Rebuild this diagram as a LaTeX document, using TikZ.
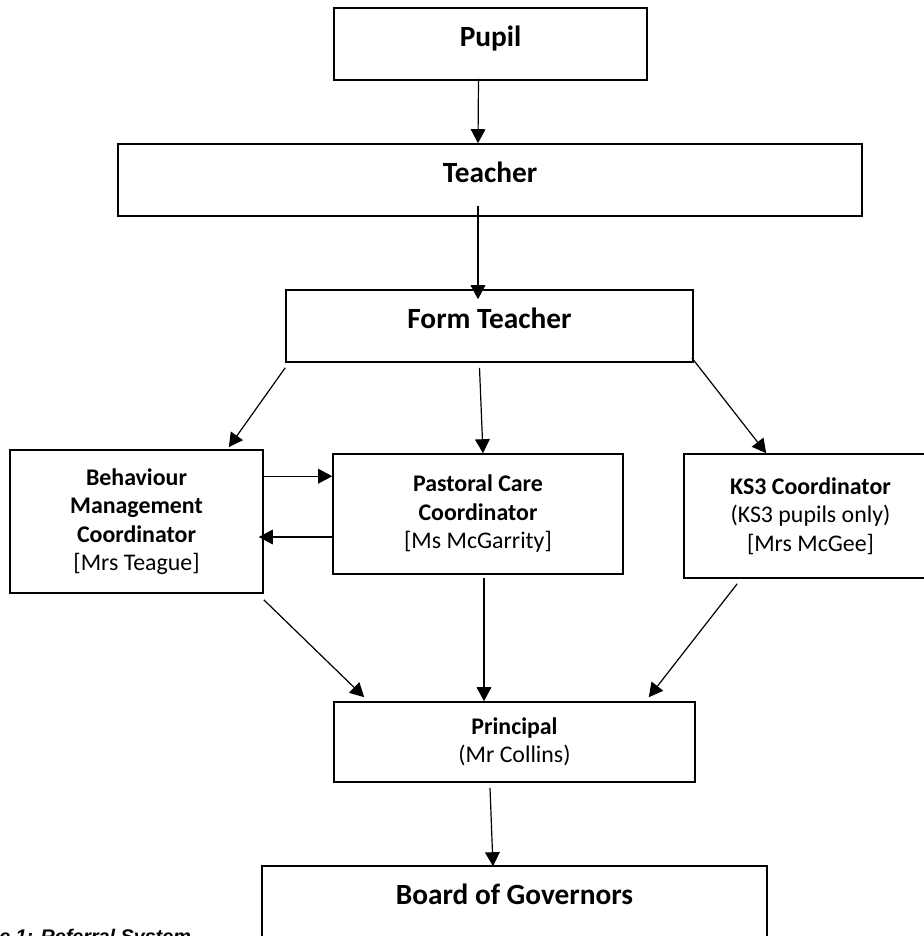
\documentclass[tikz,border=0pt]{standalone}
\usepackage{fontspec}
\setmainfont{Carlito}
\newfontfamily\captionfont{Liberation Sans}
\usetikzlibrary{arrows.meta,calc}

\tikzset{
  bigbox/.style={draw, line width=1.2pt, minimum height=54pt, text height=14pt, text depth=10pt,
    font=\fontsize{22}{26}\selectfont\bfseries},
  smallbox/.style={draw, line width=1.2pt, align=center, font=\fontsize{17.9}{21.4}\selectfont},
  link/.style={->, line width=0.9pt}
}

\begin{document}
\begin{tikzpicture}[x=0.75pt, y=-0.75pt, >={Triangle[length=10.5pt,width=11pt]}]
\useasboundingbox (0,0) rectangle (924,936);

% --- Haut ---
\node[bigbox, minimum width=234.75pt] (pupil) at (490.5,44) {Pupil};
\node[bigbox, minimum width=558pt] (teacher) at (490,180) {Teacher};
\node[bigbox, minimum width=305.25pt] (form) at (489.5,326) {Form Teacher};

\draw[link] ($(pupil.south)+(-12,-2)$) -- ($(teacher.north)+(-12,0)$);
\draw[link] ($(teacher.south)+(-12,-11)$) -- ($(form.north)+(-11.5,10)$);

% --- Coordinateurs ---
\node[smallbox, minimum width=189.75pt, minimum height=107.25pt] (behav) at (136.5,521.5)
  {\textbf{Behaviour}\\\textbf{Management}\\\textbf{Coordinator}\\{[Mrs Teague]}};
\node[smallbox, minimum width=217.5pt, minimum height=90pt] (pastoral) at (478,514)
  {\textbf{Pastoral Care}\\\textbf{Coordinator}\\{[Ms McGarrity]}};
\node[smallbox, minimum width=189.75pt, minimum height=93pt] (ks3) at (810.5,516)
  {\textbf{KS3 Coordinator}\\(KS3 pupils only)\\{[Mrs McGee]}};

\draw[link] ($(form.south west)+(0,5)$) -- ($(behav.north east)+(-35,-2)$);
\draw[link] ($(form.south)+(-10,5)$) -- ($(pastoral.north)+(5,0)$);
\draw[link] ($(form.south east)+(-2,-5)$) -- ($(ks3.north west)+(83,0)$);

\coordinate (bp) at ($(behav.north east)+(0,27)$);
\coordinate (pb) at ($(pastoral.west)+(0,23)$);
\draw[link] (bp) -- (bp -| pastoral.west);
\draw[link] (pb) -- ($(pb -| behav.east)+(-5,0)$);

% --- Bas ---
\node[smallbox, minimum width=270.75pt, minimum height=60pt] (principal) at (514.5,742)
  {\textbf{Principal}\\(Mr Collins)};
\node[bigbox, minimum width=378.75pt] (board) at (514.5,902) {Board of Governors};

\coordinate (pp) at ($(pastoral.south)+(6,3)$);
\draw[link] ($(behav.south east)+(0,6)$) -- ($(principal.north west)+(31,-4)$);
\draw[link] (pp) -- (pp |- principal.north);
\draw[link] ($(ks3.south west)+(54,5)$) -- ($(principal.north east)+(-47,-4)$);
\draw[link] ($(principal.south)+(-24.5,5)$) -- ($(board.north)+(-21.5,1)$);

\node[anchor=base west, inner sep=0pt, font=\captionfont\fontsize{14.8}{18}\selectfont\bfseries\itshape]
  (caption) at (-1,943) {e 1: Referral System};

\end{tikzpicture}
\end{document}
